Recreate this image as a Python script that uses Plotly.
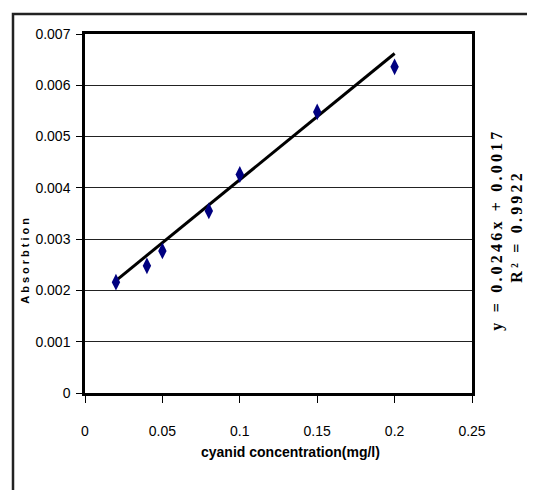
import plotly.graph_objects as go

# data
conc = [0.02, 0.04, 0.05, 0.08, 0.10, 0.15, 0.20]
absorb = [0.00216, 0.00248, 0.00277, 0.00355, 0.00426, 0.00548, 0.00636]
slope = 0.0246
intercept = 0.0017
r2 = 0.9922
x_ticks = [0, 0.05, 0.1, 0.15, 0.2, 0.25]
x_tick_text = ["0", "0.05", "0.1", "0.15", "0.2", "0.25"]
y_ticks = [0, 0.001, 0.002, 0.003, 0.004, 0.005, 0.006, 0.007]
y_tick_text = ["0", "0.001", "0.002", "0.003", "0.004", "0.005", "0.006", "0.007"]

OFF = 8  # page body margin
W, H = 535 - OFF, 490 - OFF
PL, PR, PT, PB = 85, 472, 34, 393.5  # plot area in page pixels
L, T = PL - OFF, PT - OFF
R = W - (PR - OFF)
B = H - (PB - OFF)

trend_x = [min(conc), max(conc)]
trend_y = [slope * x + intercept for x in trend_x]

fig = go.Figure()
fig.add_trace(go.Scatter(x=trend_x, y=trend_y, mode="lines",
                         line=dict(color="black", width=3), hoverinfo="skip"))
fig.add_trace(go.Scatter(x=conc, y=absorb, mode="markers",
                         marker=dict(symbol="diamond-tall", size=12, color="#000080",
                                     line=dict(width=0))))

def px2x(p): return (p - PL) / (PR - PL)
def py2y(p): return (PB - p) / (PB - PT)

font_sans = "Liberation Sans, Arial, sans-serif"
font_serif = "Liberation Serif, Times New Roman, serif"

fig.update_layout(
    width=W, height=H,
    margin=dict(l=L, r=R, t=T, b=B),
    paper_bgcolor="white", plot_bgcolor="white",
    showlegend=False,
    font=dict(family=font_sans, size=14, color="black"),
    xaxis=dict(range=[0, 0.25], tickvals=x_ticks, ticktext=x_tick_text,
               showgrid=False, zeroline=False, showline=True, linecolor="black",
               linewidth=3, mirror=True, ticks="outside", ticklen=7, tickwidth=1,
               tickcolor="black", ticklabelstandoff=16,
               tickfont=dict(family=font_sans, size=14)),
    yaxis=dict(range=[0, 0.007], tickvals=y_ticks, ticktext=y_tick_text,
               showgrid=True, gridcolor="#222", gridwidth=1.3,
               zeroline=False, showline=True, linecolor="black",
               linewidth=2.5, mirror=True, ticks="outside", ticklen=6, tickwidth=1,
               tickcolor="black", ticklabelstandoff=3,
               tickfont=dict(family=font_sans, size=14)),
)

# outer chart border (extends beyond the visible area on right/bottom)
fig.add_shape(type="rect", xref="paper", yref="paper",
              x0=px2x(13), x1=px2x(545), y0=py2y(14), y1=py2y(500),
              line=dict(color="#222", width=2.5), fillcolor="rgba(0,0,0,0)", layer="below")

fig.add_annotation(xref="paper", yref="paper", x=px2x(290), y=py2y(453),
                   text="<b>cyanid concentration(mg/l)</b>", showarrow=False,
                   font=dict(family=font_sans, size=14), xanchor="center", yanchor="middle")
fig.add_annotation(xref="paper", yref="paper", x=px2x(25), y=py2y(260),
                   text='<span style="letter-spacing:3px">Absorbtion</span>',
                   showarrow=False, textangle=-90,
                   font=dict(family=font_sans, size=11, weight="bold"),
                   xanchor="center", yanchor="middle")
fig.add_annotation(xref="paper", yref="paper", x=px2x(497), y=py2y(230),
                   text='<span style="letter-spacing:3.2px">y = %.4fx + %.4f</span>' % (slope, intercept),
                   showarrow=False, textangle=-90,
                   font=dict(family=font_serif, size=16, weight="bold"),
                   xanchor="center", yanchor="middle")
fig.add_annotation(xref="paper", yref="paper", x=px2x(517), y=py2y(227),
                   text='<span style="letter-spacing:3.2px">R² = %.4f</span>' % r2,
                   showarrow=False, textangle=-90,
                   font=dict(family=font_serif, size=16, weight="bold"),
                   xanchor="center", yanchor="middle")

fig.write_html("out.html")
